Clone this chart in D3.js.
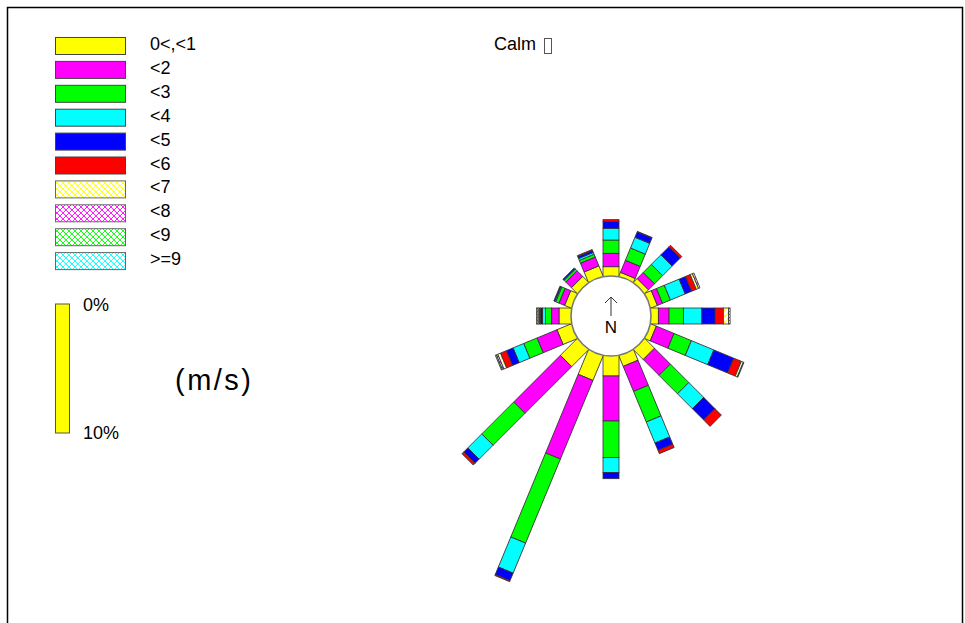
<!DOCTYPE html>
<html>
<head>
<meta charset="utf-8">
<script src="https://cdn.jsdelivr.net/npm/d3@7"></script>
<style>
  html, body { margin: 0; padding: 0; background: #fff; }
  svg { display: block; }
  text { font-family: "Liberation Sans", Arial, sans-serif; fill: #000; }
</style>
</head>
<body>
<div id="chart"></div>
<script>
// Wind directions, clockwise from north
const directions = ["N","NNE","NE","ENE","E","ESE","SE","SSE","S","SSW","SW","WSW","W","WNW","NW","NNW"];

// Speed classes (m/s)
const speedBins = ["0<,<1","<2","<3","<4","<5","<6","<7","<8","<9",">=9"];
const binColors = ["#ffff00","#ff00ff","#00ff00","#00ffff","#0000ff","#ff0000","#ffff00","#ff00ff","#00ff00","#00ffff"];
const hatchedFrom = 6;

// Frequency (%) per direction for each speed class
const speed0 = [0.72,0.31,0.39,0.54,0.57,0.45,1.05,0.87,1.55,2.05,1.83,1.18,0.93,0.54,0.62,0.85];
const speed1 = [1.04,1.01,0.66,0.43,0.83,1.48,1.74,2.10,3.49,6.60,5.12,1.67,0.57,0.47,0.62,0.74];
const speed2 = [1.03,1.03,0.89,0.66,1.11,1.46,2.02,2.57,2.84,7.05,3.50,1.12,0.48,0.27,0.19,0.23];
const speed3 = [0.91,0.90,1.05,1.24,1.43,1.88,1.63,1.76,1.16,2.52,1.53,0.89,0.23,0.08,0.04,0.16];
const speed4 = [0.51,0.45,0.89,0.54,1.03,1.67,1.24,0.61,0.47,0.63,0.44,0.56,0.16,0.08,0.08,0.16];
const speed5 = [0.16,0.04,0.16,0.39,0.64,0.64,0.70,0.28,0.00,0.08,0.20,0.50,0.12,0.00,0.00,0.08];
const speed6 = [0,0,0,0.19,0.40,0.17,0,0,0,0,0,0.23,0.08,0,0,0];
const speed7 = [0,0,0,0.12,0.12,0.05,0,0,0,0,0,0.12,0.10,0,0,0];
const speed8 = [0,0,0,0,0,0,0,0,0,0,0,0.08,0,0,0,0];
const speed9 = [0,0,0,0,0,0,0,0,0,0,0,0,0,0,0,0];
const series = [speed0,speed1,speed2,speed3,speed4,speed5,speed6,speed7,speed8,speed9];

// Percentage scale labels
const scaleLabels = ["0%","10%"];
const scaleMax = 10;
const calmLabel = "Calm";
const unitLabel = "(m/s)";

const W = 965, H = 623;
const cx = 611, cy = 316;
const innerR = 40;
const barW = 16;

const svg = d3.select("#chart").append("svg").attr("width", W).attr("height", H);

// Hatch patterns for the upper speed classes
const defs = svg.append("defs");
binColors.forEach((c, i) => {
  if (i < hatchedFrom) return;
  const p = defs.append("pattern")
    .attr("id", "hatch" + i)
    .attr("patternUnits", "userSpaceOnUse")
    .attr("width", 6).attr("height", 6);
  p.append("rect").attr("width", 6).attr("height", 6).attr("fill", "#fff");
  p.append("path").attr("d", "M0,0L6,6M6,0L0,6M-1,5L1,7M5,-1L7,1M-1,1L1,-1M5,7L7,5")
    .attr("stroke", c).attr("stroke-width", 0.9).attr("fill", "none");
});
const fillFor = i => i >= hatchedFrom ? `url(#hatch${i})` : binColors[i];

// Frame
svg.append("rect").attr("x", 7.5).attr("y", 7.5).attr("width", 955).attr("height", 660)
  .attr("fill", "none").attr("stroke", "#000").attr("stroke-width", 1.5);

// Radial length scale (percent -> pixels)
const rLen = d3.scaleLinear().domain([0, scaleMax]).range([0, 129]);
const angle = d3.scalePoint().domain(directions).range([0, 360 - 22.5]);

// Stack the classes per direction
const table = directions.map((d, j) => {
  const row = { dir: d };
  speedBins.forEach((b, i) => { row[b] = series[i][j]; });
  return row;
});
const stacked = d3.stack().keys(speedBins)(table);

const rose = svg.append("g").attr("transform", `translate(${cx},${cy})`);
stacked.forEach((layer, i) => {
  rose.append("g").selectAll("rect")
    .data(layer.filter(d => d[1] - d[0] > 0))
    .join("rect")
    .attr("transform", d => `rotate(${angle(d.data.dir)})`)
    .attr("x", -barW / 2)
    .attr("y", d => -(innerR + rLen(d[1])))
    .attr("width", barW)
    .attr("height", d => rLen(d[1]) - rLen(d[0]) + (i === 0 ? 3 : 0))
    .attr("fill", fillFor(i))
    .attr("stroke", "#333")
    .attr("stroke-width", 0.8);
});

// Centre disc with north arrow
rose.append("circle").attr("r", innerR).attr("fill", "#fff").attr("stroke", "#777").attr("stroke-width", 1.6);
rose.append("path").attr("d", "M0,0V-19M-6,-13L0,-19L6,-13")
  .attr("fill", "none").attr("stroke", "#333").attr("stroke-width", 1);
rose.append("text").attr("x", 0).attr("y", 17).attr("text-anchor", "middle")
  .attr("font-size", 17).text("N");

// Speed legend
const legend = svg.append("g");
const legY = d3.scaleBand().domain(speedBins).range([37, 37 + 23.9 * speedBins.length]);
speedBins.forEach((b, i) => {
  legend.append("rect")
    .attr("x", 55.5).attr("y", legY(b) + 0.5).attr("width", 70).attr("height", 17)
    .attr("fill", fillFor(i)).attr("stroke", i >= hatchedFrom ? "#666" : "#444").attr("stroke-width", 1);
  legend.append("text").attr("x", 150).attr("y", legY(b) + 13)
    .attr("font-size", 18).text(b);
});

// Percentage scale bar
const pctY = d3.scaleLinear().domain([0, scaleMax]).range([304, 304 + rLen(scaleMax)]);
svg.append("rect").attr("x", 55.5).attr("y", pctY(0)).attr("width", 14).attr("height", pctY(scaleMax) - pctY(0))
  .attr("fill", "#ffff00").attr("stroke", "#555").attr("stroke-width", 1);
svg.append("text").attr("x", 83).attr("y", pctY(0) + 7).attr("font-size", 18).text(scaleLabels[0]);
svg.append("text").attr("x", 83).attr("y", pctY(scaleMax) + 6).attr("font-size", 18).text(scaleLabels[1]);

svg.append("text").attr("x", 175).attr("y", 390).attr("font-size", 29)
  .attr("letter-spacing", 2.5).text(unitLabel);

// Calm indicator
svg.append("text").attr("x", 494).attr("y", 50).attr("font-size", 18).text(calmLabel);
svg.append("rect").attr("x", 544.5).attr("y", 38.5).attr("width", 7).attr("height", 15)
  .attr("fill", "none").attr("stroke", "#555").attr("stroke-width", 1);
</script>
</body>
</html>
